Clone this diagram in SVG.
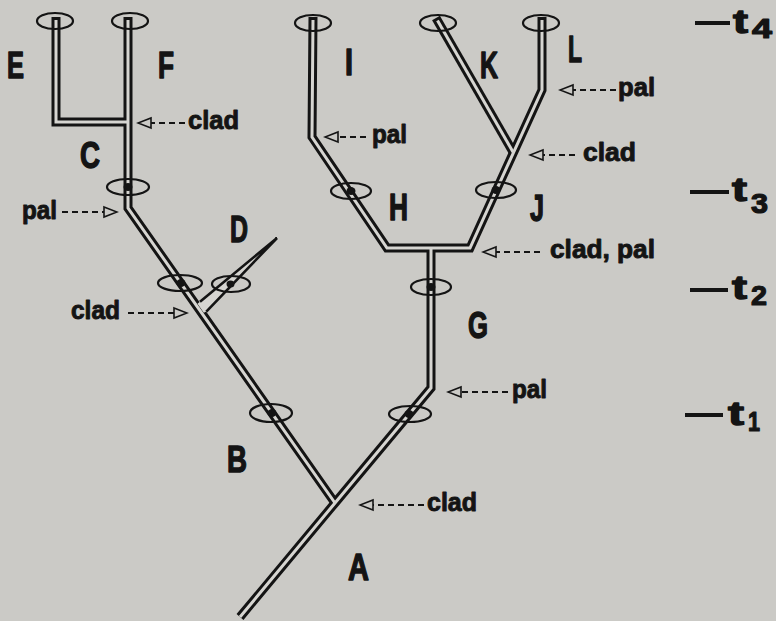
<svg xmlns="http://www.w3.org/2000/svg" width="776" height="621" viewBox="0 0 776 621">
  <defs>
    <style>
      .bg { fill: #cbcac6; }
      .tube-o { fill: none; stroke: #141414; stroke-width: 9; stroke-linejoin: miter; stroke-linecap: butt; }
      .tube-i { fill: none; stroke: #d6d5d1; stroke-width: 3; stroke-linejoin: miter; stroke-linecap: butt; }
      .ring { fill: none; stroke: #141414; stroke-width: 2.2; }
      .knot { fill: #141414; }
      .shaft { fill: none; stroke: #141414; stroke-width: 1.8; stroke-dasharray: 6 4; }
      .tick { stroke: #141414; stroke-width: 4; }
      .lbl { font-family: "Liberation Sans Narrow", "Liberation Sans", Arial, sans-serif; font-weight: bold; fill: #141414; stroke: #141414; stroke-linejoin: round; }
      .node { font-size: 36px; stroke-width: 1.4; }
      .note { font-size: 25px; stroke-width: 0.9; }
      .tt { font-size: 34px; stroke-width: 1.4; }
      .sub { font-size: 28px; stroke-width: 1.2; }
    </style>
    <marker id="open" viewBox="-2 -7 17 14" refX="0" refY="0" markerWidth="17" markerHeight="14" markerUnits="userSpaceOnUse" orient="auto">
      <path d="M0,-5 L13,0 L0,5 Z" fill="none" stroke="#141414" stroke-width="1.6" stroke-linejoin="miter"/>
    </marker>
  </defs>

  <rect class="bg" x="0" y="0" width="776" height="621"/>

  <!-- lineage tubes: dark outer strokes first, light cores on top -->
  <g id="connectors">
    <g id="tube-outline">
      <path class="tube-o" d="M240,617 L335,503 L431,388 L431,248"/>
      <path class="tube-o" d="M335,503 L128,208 L128,17"/>
      <path class="tube-o" d="M128,122 L56,122 L56,17"/>
      <path class="tube-o" d="M313,17 L312,137 L387,248 L470,248 L542,90 L542,17"/>
      <path class="tube-o" d="M436,18 L513,152"/>
    </g>
    <g id="tube-core">
      <path class="tube-i" d="M240,617 L335,503 L431,388 L431,248"/>
      <path class="tube-i" d="M335,503 L128,208 L128,20"/>
      <path class="tube-i" d="M128,122 L56,122 L56,20"/>
      <path class="tube-i" d="M313,20 L312,137 L387,248 L470,248 L542,90 L542,20"/>
      <path class="tube-i" d="M437.5,20.5 L513,152"/>
    </g>
    <!-- tapering side branch D -->
    <g id="branch-D">
      <polygon points="197.5,303.7 200,301.8 277,238 206.3,311.6 203.8,312.7" fill="#d6d5d1"/>
      <path d="M200,301.8 L277,238 L206.3,311.6" fill="none" stroke="#141414" stroke-width="2.6" stroke-linejoin="miter"/>
    </g>
  </g>

  <!-- rings marking sampled populations -->
  <g id="rings">
    <g id="ring-E"><ellipse class="ring" cx="55" cy="21" rx="18" ry="8"/></g>
    <g id="ring-F"><ellipse class="ring" cx="130" cy="21" rx="18" ry="8"/></g>
    <g id="ring-I"><ellipse class="ring" cx="313" cy="23" rx="18" ry="8"/></g>
    <g id="ring-K"><ellipse class="ring" cx="438" cy="23" rx="18" ry="8"/></g>
    <g id="ring-L"><ellipse class="ring" cx="541" cy="23" rx="18" ry="8"/></g>
    <g id="ring-C"><ellipse class="ring" cx="128" cy="187" rx="21" ry="8"/><ellipse class="knot" cx="128" cy="187" rx="4.5" ry="4"/></g>
    <g id="ring-B2"><ellipse class="ring" cx="180" cy="283" rx="22" ry="8"/><ellipse class="knot" cx="181" cy="283" rx="4.5" ry="4"/></g>
    <g id="ring-D"><ellipse class="ring" cx="231" cy="284" rx="19" ry="8"/><ellipse class="knot" cx="230.5" cy="284" rx="4" ry="3.5"/></g>
    <g id="ring-B1"><ellipse class="ring" cx="271" cy="413" rx="21" ry="9"/><ellipse class="knot" cx="272" cy="413" rx="4.5" ry="4"/></g>
    <g id="ring-A1"><ellipse class="ring" cx="410" cy="414" rx="21" ry="8"/><ellipse class="knot" cx="409" cy="414" rx="4.5" ry="4"/></g>
    <g id="ring-G"><ellipse class="ring" cx="431" cy="287" rx="20" ry="8"/><ellipse class="knot" cx="431" cy="287" rx="4.5" ry="4"/></g>
    <g id="ring-H"><ellipse class="ring" cx="351" cy="191" rx="20" ry="8"/><ellipse class="knot" cx="351" cy="191" rx="4.5" ry="4"/></g>
    <g id="ring-J"><ellipse class="ring" cx="496" cy="190" rx="20" ry="8"/><ellipse class="knot" cx="496" cy="190" rx="4.5" ry="4"/></g>
  </g>

  <!-- lineage letters -->
  <g id="labels">
    <g id="node-E"><text class="lbl node" x="7" y="78" textLength="17" lengthAdjust="spacingAndGlyphs">E</text></g>
    <g id="node-F"><text class="lbl node" x="158" y="78" textLength="16" lengthAdjust="spacingAndGlyphs">F</text></g>
    <g id="node-C"><text class="lbl node" x="80" y="168" textLength="20" lengthAdjust="spacingAndGlyphs">C</text></g>
    <g id="node-D"><text class="lbl node" x="230" y="242" textLength="18" lengthAdjust="spacingAndGlyphs">D</text></g>
    <g id="node-B"><text class="lbl node" x="227" y="472" textLength="20" lengthAdjust="spacingAndGlyphs">B</text></g>
    <g id="node-A"><text class="lbl node" x="348" y="580" textLength="21" lengthAdjust="spacingAndGlyphs">A</text></g>
    <g id="node-H"><text class="lbl node" x="389" y="220" textLength="19" lengthAdjust="spacingAndGlyphs">H</text></g>
    <g id="node-J"><text class="lbl node" x="530" y="221" textLength="14" lengthAdjust="spacingAndGlyphs">J</text></g>
    <g id="node-G"><text class="lbl node" x="468" y="338" textLength="20" lengthAdjust="spacingAndGlyphs">G</text></g>
    <g id="node-I"><text class="lbl node" x="345" y="75" textLength="8" lengthAdjust="spacingAndGlyphs">I</text></g>
    <g id="node-K"><text class="lbl node" x="480" y="78" textLength="18" lengthAdjust="spacingAndGlyphs">K</text></g>
    <g id="node-L"><text class="lbl node" x="568" y="62" textLength="14" lengthAdjust="spacingAndGlyphs">L</text></g>
  </g>

  <!-- speciation-mode callouts -->
  <g id="callouts">
    <g id="note-C-clad"><line class="shaft" x1="185" y1="123" x2="151" y2="123" marker-end="url(#open)"/><text class="lbl note" x="188" y="129" textLength="51" lengthAdjust="spacingAndGlyphs">clad</text></g>
    <g id="note-C-pal"><line class="shaft" x1="62" y1="212" x2="104" y2="212" marker-end="url(#open)"/><text class="lbl note" x="22" y="219" textLength="35" lengthAdjust="spacingAndGlyphs">pal</text></g>
    <g id="note-D-clad"><line class="shaft" x1="128" y1="313" x2="174" y2="313" marker-end="url(#open)"/><text class="lbl note" x="71" y="319" textLength="49" lengthAdjust="spacingAndGlyphs">clad</text></g>
    <g id="note-I-pal"><line class="shaft" x1="366" y1="137" x2="338" y2="137" marker-end="url(#open)"/><text class="lbl note" x="372" y="143" textLength="35" lengthAdjust="spacingAndGlyphs">pal</text></g>
    <g id="note-L-pal"><line class="shaft" x1="616" y1="90" x2="573" y2="90" marker-end="url(#open)"/><text class="lbl note" x="618" y="96" textLength="37" lengthAdjust="spacingAndGlyphs">pal</text></g>
    <g id="note-KL-clad"><line class="shaft" x1="575" y1="155" x2="543" y2="155" marker-end="url(#open)"/><text class="lbl note" x="583" y="161" textLength="53" lengthAdjust="spacingAndGlyphs">clad</text></g>
    <g id="note-HJ"><line class="shaft" x1="540" y1="252" x2="496" y2="252" marker-end="url(#open)"/><text class="lbl note" x="550" y="258" textLength="105" lengthAdjust="spacingAndGlyphs">clad, pal</text></g>
    <g id="note-G-pal"><line class="shaft" x1="508" y1="392" x2="461" y2="392" marker-end="url(#open)"/><text class="lbl note" x="512" y="398" textLength="35" lengthAdjust="spacingAndGlyphs">pal</text></g>
    <g id="note-A-clad"><line class="shaft" x1="424" y1="505" x2="373" y2="505" marker-end="url(#open)"/><text class="lbl note" x="427" y="511" textLength="50" lengthAdjust="spacingAndGlyphs">clad</text></g>
  </g>

  <!-- time horizons -->
  <g id="time-scale">
    <g id="t4"><line class="tick" x1="695" y1="23" x2="730" y2="23"/><text class="lbl tt" x="733" y="33" textLength="15" lengthAdjust="spacingAndGlyphs">t</text><text class="lbl sub" x="752" y="38" textLength="20" lengthAdjust="spacingAndGlyphs">4</text></g>
    <g id="t3"><line class="tick" x1="690" y1="192" x2="729" y2="192"/><text class="lbl tt" x="732" y="201" textLength="15" lengthAdjust="spacingAndGlyphs">t</text><text class="lbl sub" x="751" y="213" textLength="17" lengthAdjust="spacingAndGlyphs">3</text></g>
    <g id="t2"><line class="tick" x1="690" y1="290" x2="728" y2="290"/><text class="lbl tt" x="732" y="299" textLength="15" lengthAdjust="spacingAndGlyphs">t</text><text class="lbl sub" x="751" y="305" textLength="16" lengthAdjust="spacingAndGlyphs">2</text></g>
    <g id="t1"><line class="tick" x1="685" y1="415" x2="723" y2="415"/><text class="lbl tt" x="728" y="425" textLength="16" lengthAdjust="spacingAndGlyphs">t</text><text class="lbl sub" x="748" y="431" textLength="12" lengthAdjust="spacingAndGlyphs">1</text></g>
  </g>
</svg>
